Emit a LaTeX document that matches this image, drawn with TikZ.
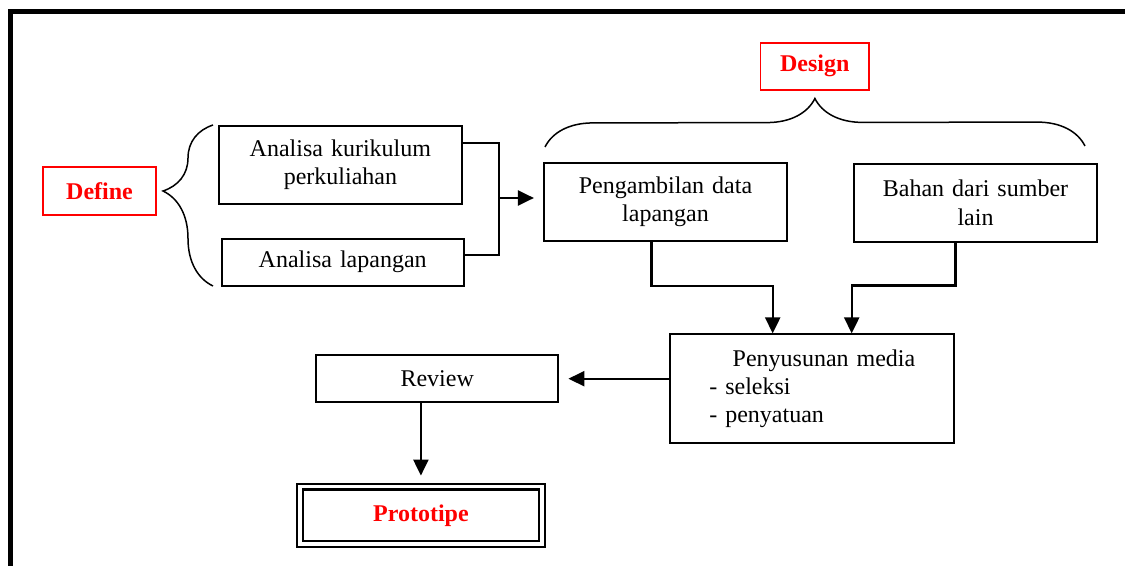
\documentclass[tikz,border=0pt]{standalone}
\usepackage{fontspec}
\setmainfont{Liberation Serif}
\usetikzlibrary{shapes,arrows.meta,decorations.pathreplacing}

\begin{document}
\begin{tikzpicture}[x=0.5pt, y=-0.5pt,
    font=\fontsize{12}{14.2}\selectfont,
    block_center/.style ={rectangle, draw=black, line width=1pt,
      text width=115pt, align=center, inner sep=2pt,
      minimum width=121.2pt, minimum height=39pt},
    block_short/.style ={block_center, minimum height=23.6pt},
    block_red/.style ={rectangle, draw=red, line width=0.9pt, text=red,
      font=\fontsize{12}{14.2}\selectfont\bfseries,
      minimum width=56.5pt, minimum height=24pt},
    block_double/.style ={rectangle, draw=black, double, line width=1.1pt,
      double distance=1.8pt, text=red,
      font=\fontsize{12}{14.2}\selectfont\bfseries,
      minimum width=121.2pt, minimum height=28.8pt},
    brace_line/.style ={draw, line width=0.75pt, decorate},
    line/.style ={draw, line width=1.15pt, -{Triangle[length=8pt,width=7.5pt]}}]

    % outer frame
    \useasboundingbox (0,0) rectangle (1125,566);
    \draw[line width=2.5pt] (10,566) |- (1125,11.7);

    % Place nodes
    \node [block_red] (define) at (99.5,191) {Define};
    \node [block_center] (kurikulum) at (340.4,165) {Analisa kurikulum\\perkuliahan};
    \node [block_short] (lapangan) at (342.7,262.2) {Analisa lapangan};
    \node [block_red, minimum width=54.3pt, minimum height=23.5pt] (design) at (814.7,66.2) {Design};
    \node [block_center] (pengambilan) at (665.5,201.7) {Pengambilan data\\lapangan};
    \node [block_center] (bahan) at (975.5,202.7) {Bahan dari sumber\\lain};
    \node [block_center, text width=103pt, align=left,
      minimum width=142pt, minimum height=54.3pt] (penyusunan) at (812.3,388.7)
      {\hspace*{\fill}Penyusunan media\\- seleksi\\- penyatuan};
    \node [block_short] (review) at (437.2,378.7) {Review};
    \node [block_double] (prototipe) at (420.9,515.5) {Prototipe};
    \coordinate (join) at (499,198);

    % braces
    \path [brace_line, decoration={brace, amplitude=25pt, aspect=0.59}]
      (213,286) -- (213,125);
    \path [brace_line, decoration={brace, amplitude=24pt, aspect=0.5}]
      (545,147) -- (1085,146);

    \begin{scope}[every path/.style=line]
    % Drawing paths, starting from the define column
    \path [-] ([yshift=11pt]kurikulum.east) -| (join) |- ([yshift=3.5pt]lapangan.east);
    \path [shorten >=4.7pt] (join) -- (join -| pengambilan.west);

    % paths into the media box
    \path ([xshift=-7pt]pengambilan.south) -- ++(0,44) -| ([xshift=-19.8pt]penyusunan.north);
    \path ([xshift=-10pt]bahan.south) -- ++(0,42.8) -| ([xshift=19.7pt]penyusunan.north);

    % paths to the prototype
    \path [shorten >=4.5pt] (penyusunan.west |- review.east) -- (review.east);
    \path [shorten >=5pt] (review.south -| prototipe.north) -- (prototipe.north);
    \end{scope}

\end{tikzpicture}
\end{document}
